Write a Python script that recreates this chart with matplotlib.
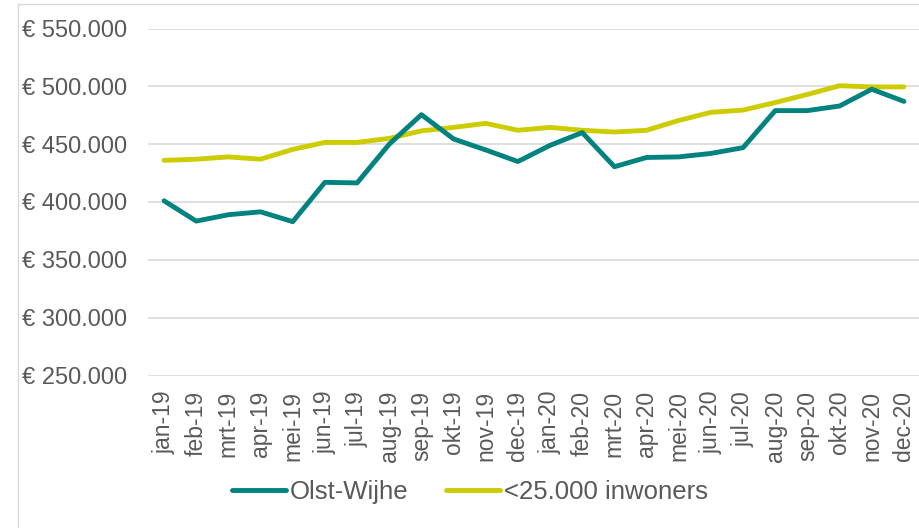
import matplotlib
matplotlib.use("Agg")
import matplotlib.pyplot as plt
from matplotlib.lines import Line2D
from matplotlib.ticker import FuncFormatter

plt.rcParams['font.family'] = ['Liberation Sans', 'DejaVu Sans']

months = ['jan-19', 'feb-19', 'mrt-19', 'apr-19', 'mei-19', 'jun-19', 'jul-19', 'aug-19',
          'sep-19', 'okt-19', 'nov-19', 'dec-19', 'jan-20', 'feb-20', 'mrt-20', 'apr-20',
          'mei-20', 'jun-20', 'jul-20', 'aug-20', 'sep-20', 'okt-20', 'nov-20', 'dec-20']

olst_wijhe = [401000, 383500, 389000, 391500, 383000, 417000, 416500, 450000,
              475500, 454500, 445000, 435000, 449000, 460000, 430500, 438500,
              439000, 442000, 447000, 479000, 479000, 483000, 497500, 487000]

klein_gemeenten = [436000, 437000, 439000, 437000, 445500, 451500, 451500, 455000,
                   461500, 464500, 468000, 462000, 464500, 462000, 460500, 462000,
                   470500, 477500, 479500, 486000, 493000, 500500, 499500, 499500]

teal = '#00827F'
yellow = '#CCCC00'
grey_text = '#595959'

fig = plt.figure(figsize=(9.2, 5.28), dpi=100)
ax = fig.add_axes([148 / 920, 1 - 375.5 / 528, 772 / 920, 347 / 528])

x = range(len(months))
ax.plot(x, olst_wijhe, color=teal, lw=3.5, solid_capstyle='round', label='Olst-Wijhe', zorder=3)
ax.plot(x, klein_gemeenten, color=yellow, lw=3.5, solid_capstyle='round',
        label='<25.000 inwoners', zorder=2)

ax.set_xlim(-0.5, len(months) - 0.5)
ax.set_ylim(250000, 550000)
ax.set_yticks(range(250000, 550001, 50000))
ax.yaxis.set_major_formatter(FuncFormatter(lambda v, p: '€ ' + f'{int(v):,}'.replace(',', '.')))
ax.set_xticks(list(x))
ax.set_xticklabels(months, rotation=90, va='top', ha='center')

ax.grid(axis='y', color='#D9D9D9', lw=1.2)
ax.set_axisbelow(True)
for s in ax.spines.values():
    s.set_visible(False)
ax.tick_params(axis='both', length=0, labelcolor=grey_text)
ax.tick_params(axis='y', pad=15, labelsize=17)
ax.tick_params(axis='x', pad=11, labelsize=16.5)

# chart frame (partly cropped)
fig.add_artist(Line2D([17.5 / 920, 17.5 / 920], [0, 1 - 3.5 / 528], color='#D9D9D9', lw=1,
                      transform=fig.transFigure))
fig.add_artist(Line2D([17.5 / 920, 1], [1 - 3.5 / 528, 1 - 3.5 / 528], color='#D9D9D9', lw=1,
                      transform=fig.transFigure))

leg = fig.legend(loc='center', bbox_to_anchor=(470 / 920, 1 - 492 / 528), ncol=2,
                 frameon=False, fontsize=18.5, handlelength=2.1, handletextpad=0.15,
                 columnspacing=1.45)
for t in leg.get_texts():
    t.set_color(grey_text)

fig.savefig('out.png', dpi=100)
